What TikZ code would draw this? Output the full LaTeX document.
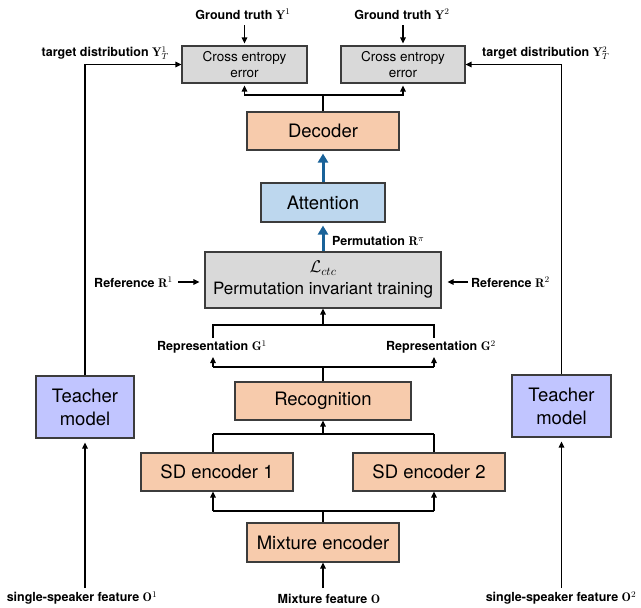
\RequirePackage{fix-cm}
\documentclass[tikz,border=0pt]{standalone}
\usepackage{fontspec}
\setsansfont{TeX Gyre Heros}
\usetikzlibrary{arrows.meta}
\definecolor{orng}{RGB}{247,203,172}
\definecolor{lblue}{RGB}{189,215,238}
\definecolor{lav}{RGB}{193,197,255}
\definecolor{gry}{RGB}{217,217,217}
\definecolor{bord}{RGB}{60,60,60}
\definecolor{blu}{RGB}{25,98,153}
\begin{document}
\begin{tikzpicture}[x=1pt,y=-1pt,
  box/.style={draw=bord, line width=1.1pt, inner sep=0pt, align=center,
    font=\sffamily\fontsize{18.5}{23}\selectfont},
  small/.style={font=\sffamily\fontsize{13.5}{16.5}\selectfont},
  lbl/.style={inner sep=0pt, font=\sffamily\bfseries\fontsize{12.5}{15}\selectfont},
  ln/.style={line width=1.2pt},
  arr/.style={line width=1.2pt, -{Triangle[length=6pt,width=5.5pt]}},
  barr/.style={line width=3pt, draw=blu, -{Triangle[length=9pt,width=10pt]}}]
\useasboundingbox (0,0) rectangle (641,608);

% boxes
\node[box,small,fill=gry,minimum width=125pt,minimum height=37pt] (ce1) at (244.5,64.5) {Cross entropy\\error};
\node[box,small,fill=gry,minimum width=124pt,minimum height=37pt] (ce2) at (403,64.5) {Cross entropy\\error};
\node[box,fill=orng,minimum width=152pt,minimum height=38pt] (dec) at (323,131) {Decoder};
\node[box,fill=lblue,minimum width=124pt,minimum height=39pt] (att) at (323,202.5) {Attention};
\node[box,fill=gry,minimum width=236pt,minimum height=56pt,font=\sffamily\fontsize{17}{22}\selectfont] (pit) at (323,280) {$\mathcal{L}_{ctc}$\\Permutation invariant training};
\node[box,fill=orng,minimum width=176pt,minimum height=38pt] (rec) at (323,401) {Recognition};
\node[box,fill=orng,minimum width=152pt,minimum height=38pt] (sd1) at (217,472) {SD encoder 1};
\node[box,fill=orng,minimum width=152pt,minimum height=38pt] (sd2) at (429,472) {SD encoder 2};
\node[box,fill=orng,minimum width=152pt,minimum height=39pt] (mix) at (323,542.5) {Mixture encoder};
\node[box,fill=lav,minimum width=98pt,minimum height=62pt] (t1) at (85,407) {Teacher\\model};
\node[box,fill=lav,minimum width=99pt,minimum height=62pt] (t2) at (561.5,406) {Teacher\\model};

% labels
\node[lbl] (gt1) at (243,14) {Ground truth $\mathbf{Y}^1$};
\node[lbl] (gt2) at (402,14) {Ground truth $\mathbf{Y}^2$};
\node[lbl,anchor=east] (td1) at (169,53) {target distribution $\mathbf{Y}_T^1$};
\node[lbl,anchor=west] (td2) at (482,53) {target distribution $\mathbf{Y}_T^2$};
\node[lbl,anchor=west] (perm) at (332,241) {Permutation $\mathbf{R}^{\pi}$};
\node[lbl,anchor=east] (ref1) at (173,282) {Reference $\mathbf{R}^1$};
\node[lbl,anchor=west] (ref2) at (471,282) {Reference $\mathbf{R}^2$};
\node[lbl] (rep1) at (212,347) {Representation $\mathbf{G}^1$};
\node[lbl] (rep2) at (441,347) {Representation $\mathbf{G}^2$};
\node[lbl] (ss1) at (82,598) {single-speaker feature $\mathbf{O}^1$};
\node[lbl] (ss2) at (561,598) {single-speaker feature $\mathbf{O}^2$};
\node[lbl] (mf) at (329,599) {Mixture feature $\mathbf{O}$};

% coordinates
\coordinate (gt1a) at (244.5,25);
\coordinate (gt2a) at (403,25);
\coordinate (dj) at (323,95);
\coordinate (pj) at (323,325);
\coordinate (pl) at (213,325);
\coordinate (pr) at (434,325);
\coordinate (r1a) at (213,338);
\coordinate (r2a) at (434,338);
\coordinate (rj) at (323,367);
\coordinate (rl) at (213,367);
\coordinate (rr) at (434,367);
\coordinate (r1b) at (213,357);
\coordinate (r2b) at (434,357);
\coordinate (sj) at (323,434);
\coordinate (sl) at (213,434);
\coordinate (sr) at (434,434);
\coordinate (mj) at (323,511);
\coordinate (ml) at (213,511);
\coordinate (mr) at (434,511);
\coordinate (mfa) at (323,588);
\coordinate (t1a) at (85,588);
\coordinate (t2a) at (561.5,588);

% connectors
\draw[arr,shorten >=2pt] (gt1a) -- (ce1.north);
\draw[arr,shorten >=2pt] (gt2a) -- (ce2.north);
\draw[ln] (dec.north) -- (dj);
\draw[arr,shorten >=2pt] (dj) -| (ce1.south);
\draw[arr,shorten >=2pt] (dj) -| (ce2.south);
\draw[arr] (t1.north) |- (ce1.west);
\draw[arr] (t2.north) |- (ce2.east);
\draw[barr,shorten >=3pt] (att.north) -- (dec.south);
\draw[barr,shorten >=3pt] (pit.north) -- (att.south);
\draw[arr,shorten <=5pt,shorten >=5pt] (ref1.east) -- (ref1.east -| pit.west);
\draw[arr,shorten <=3pt,shorten >=6pt] (ref2.west) -- (ref2.west -| pit.east);
\draw[ln] (r1a) -- (pl) -- (pr) -- (r2a);
\draw[arr] (pj) -- (pit.south);
\draw[ln] (rec.north) -- (rj);
\draw[ln] (rl) -- (rr);
\draw[arr] (rl) -- (r1b);
\draw[arr] (rr) -- (r2b);
\draw[arr] (sj) -- (rec.south);
\draw[ln] (sl) -- (sr);
\draw[ln] (sl) -- (sl |- sd1.north);
\draw[ln] (sr) -- (sr |- sd2.north);
\draw[ln] (mix.north) -- (mj);
\draw[ln] (ml) -- (mr);
\draw[arr] (ml) -- (ml |- sd1.south);
\draw[arr] (mr) -- (mr |- sd2.south);
\draw[arr] (mfa) -- (mix.south);
\draw[arr,shorten >=4pt] (t1a) -- (t1.south);
\draw[arr,shorten >=4pt] (t2a) -- (t2.south);
\end{tikzpicture}
\end{document}
